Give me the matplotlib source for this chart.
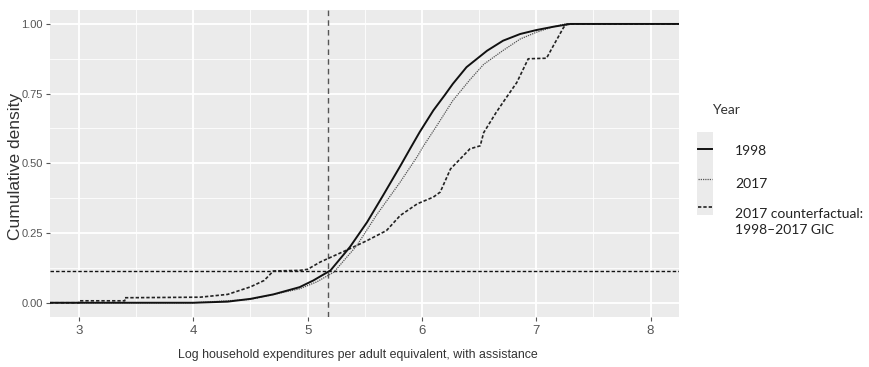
import matplotlib
matplotlib.use("Agg")
import matplotlib.pyplot as plt
from matplotlib.lines import Line2D
from matplotlib.ticker import MultipleLocator

# Cumulative distributions of log household expenditure per adult equivalent
x_1998 = [3.00, 4.00, 4.30, 4.50, 4.70, 4.93, 5.05, 5.20, 5.37, 5.52, 5.66, 5.81, 5.90,
          5.98, 6.10, 6.20, 6.27, 6.39, 6.57, 6.71, 6.86, 7.00, 7.15, 7.30, 8.00]
y_1998 = [0.000, 0.000, 0.004, 0.014, 0.030, 0.056, 0.080, 0.116, 0.200, 0.289, 0.385, 0.490, 0.555,
          0.612, 0.690, 0.745, 0.785, 0.845, 0.904, 0.940, 0.964, 0.978, 0.990, 1.000, 1.000]

x_2017 = [3.00, 4.00, 4.50, 4.93, 5.08, 5.23, 5.43, 5.60, 5.81, 5.96, 6.01, 6.13, 6.27,
          6.42, 6.54, 6.71, 6.86, 7.00, 7.15, 7.25, 8.00]
y_2017 = [0.000, 0.000, 0.012, 0.050, 0.075, 0.110, 0.205, 0.313, 0.433, 0.525, 0.560, 0.635, 0.725,
          0.800, 0.855, 0.905, 0.946, 0.970, 0.990, 1.000, 1.000]

x_cf = [3.00, 3.00, 3.40, 3.40, 4.06, 4.30, 4.50, 4.62, 4.70, 4.93, 5.00, 5.11, 5.25,
        5.37, 5.52, 5.69, 5.81, 5.96, 6.10, 6.16, 6.25, 6.42, 6.51, 6.54, 6.65, 6.74,
        6.83, 6.93, 7.09, 7.15, 7.24, 7.27, 8.00]
y_cf = [0.000, 0.007, 0.007, 0.018, 0.020, 0.030, 0.057, 0.080, 0.114, 0.116, 0.120, 0.146, 0.172,
        0.194, 0.223, 0.259, 0.313, 0.355, 0.379, 0.397, 0.480, 0.552, 0.563, 0.610, 0.683, 0.737,
        0.790, 0.875, 0.877, 0.922, 0.988, 1.000, 1.000]

poverty_line = 5.18
poverty_share = 0.114

x_ticks = [3, 4, 5, 6, 7, 8]
y_ticks = [0.00, 0.25, 0.50, 0.75, 1.00]
legend_labels = ["1998", "2017", "2017 counterfactual:\n1998\u20132017 GIC"]

sans = ["Liberation Sans", "DejaVu Sans"]

fig = plt.figure(figsize=(8.70, 3.67), dpi=100)
ax = fig.add_axes([50 / 870, 1 - 316.7 / 367, 629 / 870, 306.7 / 367])
ax.set_facecolor("#EBEBEB")
for s in ax.spines.values():
    s.set_visible(False)

ax.set_xlim(2.746, 8.249)
ax.set_ylim(-0.05, 1.05)
ax.set_xticks(x_ticks)
ax.set_yticks(y_ticks)
ax.xaxis.set_minor_locator(MultipleLocator(0.5))
ax.yaxis.set_minor_locator(MultipleLocator(0.125))
ax.grid(which="major", color="white", lw=1.3)
ax.grid(which="minor", color="white", lw=0.6)
ax.set_axisbelow(True)
ax.tick_params(which="minor", length=0)
ax.tick_params(which="major", length=3, color="#555555", width=0.8,
               labelcolor="#555555", pad=3)
ax.set_xticklabels([str(v) for v in x_ticks], family=sans, fontsize=9.5)
ax.set_yticklabels([f"{v:.2f}" for v in y_ticks], family=sans, fontsize=8)
ax.tick_params(axis="y", pad=2)

xl = ax.get_xlim()


def padded(xs, ys):
    # extend each ECDF to the panel edges
    return [xl[0]] + list(xs) + [xl[1]], [ys[0]] + list(ys) + [ys[-1]]


ax.axvline(poverty_line, color="#555555", lw=1.0, ls=(0, (4, 3)))
ax.axhline(poverty_share, color="#111111", lw=1.0, ls=(0, (2.5, 1.5)))

px, py = padded(x_cf, y_cf)
ax.plot(px, py, color="#222222", lw=1.2, ls=(0, (2, 1.2)))
px, py = padded(x_2017, y_2017)
ax.plot(px, py, color="#555555", lw=0.9, ls=(0, (1, 0.8)))
px, py = padded(x_1998, y_1998)
ax.plot(px, py, color="#111111", lw=1.4)

fig.text(358 / 870, 1 - 355 / 367,
         "Log household expenditures per adult equivalent, with assistance",
         ha="center", va="center", family=sans, fontsize=8.9, color="#333333")
fig.text(16 / 870, 1 - 166 / 367, "Cumulative density", rotation=90,
         ha="center", va="center", fontsize=12.5, color="#333333", family=sans)

# legend
leg_font = ["Lato", "DejaVu Sans"]
fig.text(712 / 870, 1 - 110 / 367, "Year", fontsize=10, color="#333333",
         family=leg_font, va="center", ha="left")
fig.patches.append(plt.Rectangle((697 / 870, 1 - 215 / 367), 16 / 870, 83 / 367,
                                 transform=fig.transFigure, facecolor="#EBEBEB",
                                 edgecolor="none"))
key_y = [149, 179, 207]
text_y = [151, 184, 222]
styles = [dict(color="#111111", lw=1.4, ls="-"),
          dict(color="#555555", lw=0.9, ls=(0, (1, 0.8))),
          dict(color="#222222", lw=1.2, ls=(0, (2, 1.2)))]
for ky, ty, lab, st in zip(key_y, text_y, legend_labels, styles):
    fig.lines.append(Line2D([698 / 870, 712 / 870], [1 - ky / 367, 1 - ky / 367],
                            transform=fig.transFigure, **st))
    fig.text(735 / 870, 1 - ty / 367, lab, fontsize=10, color="#222222",
             family=leg_font, va="center", ha="left", linespacing=1.45)

fig.savefig("out.png", dpi=100, facecolor="white")
